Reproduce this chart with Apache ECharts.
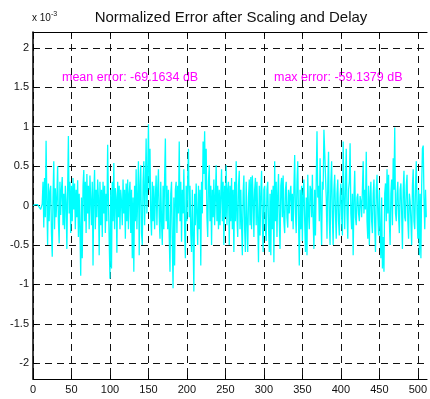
<!DOCTYPE html>
<html>
<head>
<meta charset="utf-8">
<script src="https://cdn.jsdelivr.net/npm/echarts@6/dist/echarts.min.js"></script>
<style>
  html, body { margin: 0; padding: 0; background: #fff; }
  #chart { width: 430px; height: 399px; }
</style>
</head>
<body>
<div id="chart"></div>
<script>
// Normalized error samples, in units of 1e-3 (sample index = position in array)
const errorSamples = [
  0.00, 0.01, -0.01, 0.01, 0.00, -0.01, 0.01, 0.00, -0.02, -0.03,
  -0.05, -0.03, 0.02, 0.30, -0.28, 0.35, -0.15, 0.82, 0.05, -0.50,
  0.28, -0.20, 0.18, 0.25, -0.35, -0.65, 0.10, 0.56, -0.30, 0.22,
  -0.15, 0.10, 0.50, -0.20, -0.48, 0.30, -0.12, 0.20, 0.36, -0.25,
  0.15, -0.30, 0.25, 0.05, -0.55, 0.20, 0.88, -0.10, 0.30, -0.35,
  0.25, -0.20, 0.35, -0.05, 0.28, -0.30, 0.20, -0.15, 0.32, -0.40,
  0.15, -0.30, -0.89, 0.10, -0.67, 0.25, 0.45, -0.20, 0.30, -0.35,
  0.40, -0.10, 0.25, -0.30, 0.38, 0.05, -0.25, 0.30, -0.76, 0.15,
  0.45, -0.30, 0.20, -0.15, 0.33, 0.10, -0.63, 0.30, -0.25, 0.20,
  -0.40, 0.30, -0.10, 0.25, -0.35, 0.15, -0.20, 0.77, 0.05, -0.45,
  -0.93, 0.20, -0.80, 0.30, -0.20, 0.54, -0.30, 0.22, 0.10, -0.60,
  0.30, -0.15, 0.25, -0.30, 0.20, 0.05, -0.25, 0.33, -0.10, 0.20,
  -0.42, 0.28, -0.20, 0.33, -0.30, 0.15, 0.30, -0.35, 0.20, -0.67,
  0.10, -0.84, 0.25, -0.20, 0.46, -0.30, 0.10, 0.56, -0.63, 0.25,
  0.51, -0.35, -0.50, 0.30, 0.56, -0.25, 0.20, 0.85, -0.10, 0.40,
  1.03, 0.20, 0.72, -0.15, -0.38, 0.30, -0.20, 0.25, -0.30, 0.10,
  0.38, -0.25, 0.20, 0.46, -0.15, -0.42, 0.30, -0.20, -0.50, 0.25,
  -0.30, 0.35, 0.85, -0.20, 0.25, -0.30, 0.20, -0.40, -0.84, 0.15,
  0.30, -0.50, -1.05, 0.10, -0.76, 0.20, 0.30, -0.35, 0.25, -0.10,
  0.81, -0.20, 0.30, -0.46, 0.20, -0.10, 0.46, -0.30, -0.67, 0.25,
  -0.20, 0.35, 0.72, -0.15, 0.25, -0.35, -0.59, 0.20, -0.40, -1.09,
  0.15, -0.25, 0.28, -0.10, -0.50, 0.25, -0.30, 0.20, -0.76, 0.30,
  -0.10, 0.81, 0.40, 0.94, 0.20, 0.72, -0.15, -0.40, 0.30, 0.51,
  -0.20, 0.25, -0.50, 0.20, -0.15, 0.33, -0.25, 0.10, 0.51, -0.20,
  0.25, -0.30, 0.20, -0.25, 0.15, 0.46, -0.20, 0.30, -0.50, 0.25,
  -0.15, 0.51, -0.25, 0.20, 0.30, -0.50, 0.25, -0.20, 0.35, -0.30,
  0.20, -0.59, 0.30, -0.20, 0.56, -0.15, -0.40, 0.25, 0.44, -0.30,
  0.20, -0.25, -0.63, 0.15, 0.38, -0.30, -0.59, 0.30, -0.20, -0.59,
  0.10, 0.33, -0.25, 0.36, -0.30, 0.38, 0.10, -0.40, 0.20, 0.35,
  -0.25, 0.30, -0.20, -0.72, 0.25, -0.38, 0.15, 0.44, -0.20, -0.59,
  0.20, 0.25, -0.30, -0.45, 0.20, 0.30, -0.25, -0.59, 0.15, -0.63,
  0.20, -0.30, 0.25, -0.72, 0.56, -0.20, 0.30, -0.40, 0.15, 0.40,
  -0.20, -0.55, 0.25, 0.35, -0.15, 0.38, -0.20, -0.35, 0.20, 0.30,
  -0.15, -0.28, 0.20, -0.10, 0.15, 0.25, -0.20, 0.15, -0.30, 0.20,
  0.64, -0.10, -0.35, 0.30, 0.56, -0.20, -0.76, 0.20, -0.30, 0.25,
  -0.45, 0.15, 0.33, -0.20, -0.59, 0.10, -0.63, 0.39, -0.10, -0.30,
  0.25, 0.20, -0.15, 0.39, -0.20, -0.55, 0.20, -0.38, 0.30, 0.94,
  0.10, 0.25, -0.20, 0.60, -0.10, -0.50, 0.30, 0.20, 0.96, 0.98,
  0.96, 0.10, -0.42, 0.25, 0.68, -0.20, -0.50, 0.30, 0.56, -0.15,
  -0.50, 0.20, 0.39, -0.10, -0.42, 0.15, 0.33, -0.20, -0.38, 0.10,
  0.28, -0.15, -0.38, 0.81, 0.10, -0.30, 0.25, 0.72, -0.10, -0.42,
  0.20, 0.30, 0.79, -0.10, -0.30, 0.15, -0.63, 0.10, 0.44, -0.15,
  -0.25, 0.10, 0.15, -0.10, -0.20, 0.12, 0.05, -0.15, 0.20, 0.56,
  -0.10, 0.20, -0.05, 0.68, -0.20, -0.42, 0.25, -0.50, 0.10, 0.30,
  -0.20, -0.35, 0.15, 0.33, -0.25, -0.59, 0.20, 0.39, -0.10, -0.38,
  0.20, -0.30, -0.67, 0.10, -0.80, -0.40, -0.84, 0.15, 0.28, -0.20,
  0.46, -0.10, 0.39, -0.20, -0.50, 0.15, 0.33, -0.25, 0.60, 0.20,
  0.99, -0.10, -0.20, 0.15, 0.30, -0.15, -0.35, 0.20, 0.28, -0.10,
  -0.55, 0.20, 0.44, -0.15, -0.20, 0.25, 0.39, -0.20, -0.42, 0.15,
  0.05, -0.20, -0.50, 0.25, 0.46, -0.20, -0.30, 0.25, 0.56, -0.10,
  -0.42, 0.20, -0.63, 0.15, -0.67, 0.25, 0.72, 0.76, 0.10, -0.30,
  0.20, -0.15
];

// Tick positions
const xTicks = [0, 50, 100, 150, 200, 250, 300, 350, 400, 450, 500];
const yTicks = [-2, -1.5, -1, -0.5, 0, 0.5, 1, 1.5, 2];

// Annotation texts
const titleText = 'Normalized Error after Scaling and Delay';
const meanErrorText = 'mean error: -69.1634 dB';
const maxErrorText = 'max error: -59.1379 dB';

const FONT = '"Liberation Sans", Arial, Helvetica, sans-serif';

const seriesData = errorSamples.map((v, i) => [i, v]);

const gridDash = { color: '#111', width: 1, type: [7, 5] };

const chart = echarts.init(document.getElementById('chart'), null, { renderer: 'canvas' });

chart.setOption({
  animation: false,
  backgroundColor: '#ffffff',
  title: {
    text: titleText,
    left: 226,
    textAlign: 'center',
    top: 5,
    textStyle: { fontFamily: FONT, fontSize: 15, fontWeight: 'normal', color: '#111' }
  },
  grid: { left: 33, right: -3, top: 32, bottom: 20, containLabel: false },
  xAxis: [
    {
      type: 'value',
      min: 0,
      max: 512,
      position: 'bottom',
      axisLine: { show: true, onZero: false, lineStyle: { color: '#000', width: 1 } },
      axisTick: { show: true, inside: true, length: 4, customValues: xTicks, lineStyle: { color: '#000' } },
      axisLabel: { customValues: xTicks, color: '#111', fontFamily: FONT, fontSize: 11, margin: 5 },
      splitLine: { show: true, lineStyle: gridDash }
    },
    {
      type: 'value',
      min: 0,
      max: 512,
      position: 'top',
      axisLine: { show: true, onZero: false, lineStyle: { color: '#000', width: 1 } },
      axisTick: { show: true, inside: true, length: 4, customValues: xTicks, lineStyle: { color: '#000' } },
      axisLabel: { show: false },
      splitLine: { show: false }
    }
  ],
  yAxis: {
    type: 'value',
    min: -2.2,
    max: 2.2,
    axisLine: { show: true, onZero: false, lineStyle: { color: '#000', width: 1.5 } },
    axisTick: { show: true, inside: true, length: 4, customValues: yTicks, lineStyle: { color: '#000' } },
    axisLabel: { customValues: yTicks, color: '#111', fontFamily: FONT, fontSize: 11, margin: 4 },
    splitLine: { show: true, lineStyle: gridDash }
  },
  graphic: [
    {
      type: 'text',
      left: 32,
      top: 11,
      style: {
        text: '{b|x 10}{s|-3}',
        rich: {
          b: { fontFamily: FONT, fontSize: 10, fill: '#111', verticalAlign: 'bottom', lineHeight: 12 },
          s: { fontFamily: FONT, fontSize: 7, fill: '#111', verticalAlign: 'top', lineHeight: 12 }
        }
      }
    },
    {
      type: 'text',
      left: 62,
      top: 71,
      style: { text: meanErrorText, fontFamily: FONT, fontSize: 12.5, fill: '#ff00ff' }
    },
    {
      type: 'text',
      left: 274,
      top: 71,
      style: { text: maxErrorText, fontFamily: FONT, fontSize: 12.5, fill: '#ff00ff' }
    }
  ],
  series: [
    {
      type: 'line',
      data: seriesData,
      showSymbol: false,
      symbol: 'none',
      lineStyle: { color: '#00ffff', width: 1.3 },
      clip: true,
      z: 3
    }
  ]
});
</script>
</body>
</html>
